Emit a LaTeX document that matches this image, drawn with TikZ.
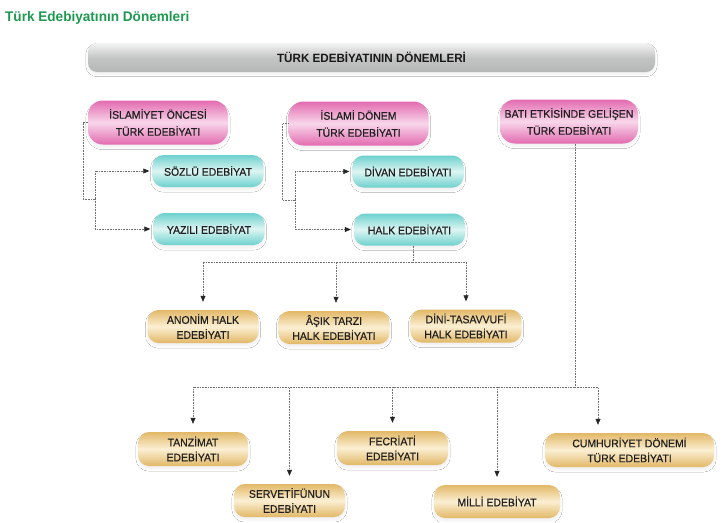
\documentclass[tikz,border=0pt]{standalone}
\usepackage{fontspec}
\setmainfont{Liberation Sans}
\newfontfamily\boxfont[FakeStretch=0.95,FakeBold=0.4]{Liberation Sans}
\newfontfamily\headfont[FakeStretch=0.97]{Liberation Sans}
\usetikzlibrary{arrows.meta,shadows.blur}
\definecolor{pinkD}{HTML}{E36BB0}
\definecolor{pinkL}{HTML}{F8D6EA}
\definecolor{cyanD}{HTML}{6DD1CD}
\definecolor{cyanL}{HTML}{DDF5F3}
\definecolor{goldD}{HTML}{E2B867}
\definecolor{goldL}{HTML}{FBEFD3}
\definecolor{grayD}{HTML}{C4C6C6}
\definecolor{grayL}{HTML}{F3F3F3}
\definecolor{titlegreen}{HTML}{1E9A50}
\definecolor{lineg}{HTML}{707070}
\tikzset{
  basebox/.style={align=center, inner sep=0pt, text=black!88,
    font=\boxfont\fontsize{11}{15}\selectfont,
    blur shadow={shadow xshift=0pt, shadow yshift=-3pt, shadow opacity=6, shadow blur steps=6}},
  pinkbox/.style={basebox, minimum width=140pt, minimum height=44pt, rounded corners=15pt,
    top color=pinkD, bottom color=pinkD, middle color=pinkL,
    font=\boxfont\fontsize{11}{17}\selectfont},
  cyanbox/.style={basebox, minimum width=111pt, minimum height=32pt, rounded corners=11pt,
    top color=cyanD, bottom color=cyanD, middle color=cyanL},
  goldbox/.style={basebox, minimum width=111pt, minimum height=33pt, rounded corners=11pt,
    top color=goldD, bottom color=goldD, middle color=goldL},
  dotline/.style={draw=lineg, densely dotted, line width=0.6pt},
  arr/.style={dotline, -{Triangle[length=6pt,width=5pt,color=black!85,fill=black!85]}, shorten >=3pt},
  darr/.style={arr, shorten >=8pt},
}
\begin{document}
\begin{tikzpicture}[x=1pt,y=-1pt]
\useasboundingbox[fill=white] (0,0) rectangle (722,522);

% title
\node[anchor=west, inner sep=0pt, text=titlegreen, font=\headfont\bfseries\fontsize{14}{16}\selectfont] (title) at (5,18) {Türk Edebiyatının Dönemleri};

% top bar
\node[minimum width=567pt, minimum height=29pt, rounded corners=9pt, inner sep=0pt,
  top color=grayL, bottom color=grayD!92!black, middle color=grayD,
  blur shadow={shadow xshift=0pt, shadow yshift=-2.5pt, shadow opacity=6},
  font=\headfont\bfseries\fontsize{12}{14}\selectfont, text=black!90] (top) at (371.5,57.5) {TÜRK EDEBİYATININ DÖNEMLERİ};

% pink boxes
\node[pinkbox] (p1) at (158,122.5) {İSLAMİYET ÖNCESİ\\TÜRK EDEBİYATI};
\node[pinkbox] (p2) at (358.5,123.5) {İSLAMİ DÖNEM\\TÜRK EDEBİYATI};
\node[pinkbox, minimum width=138pt] (p3) at (569,121.5) {BATI ETKİSİNDE GELİŞEN\\TÜRK EDEBİYATI};

% cyan boxes
\node[cyanbox] (s) at (208,171) {SÖZLÜ EDEBİYAT};
\node[cyanbox] (y) at (209,229) {YAZILI EDEBİYAT};
\node[cyanbox] (d) at (408,171.5) {DİVAN EDEBİYATI};
\node[cyanbox] (h) at (409.5,229.5) {HALK EDEBİYATI};

% gold boxes (halk)
\node[goldbox] (an) at (203,326.5) {ANONİM HALK\\EDEBİYATI};
\node[goldbox] (as) at (334,327.5) {ÂŞIK TARZI\\HALK EDEBİYATI};
\node[goldbox] (di) at (466,326) {DİNİ-TASAVVUFİ\\HALK EDEBİYATI};

% gold boxes (bati)
\node[goldbox, minimum width=110pt, minimum height=34pt] (ta) at (193,449) {TANZİMAT\\EDEBİYATI};
\node[goldbox] (se) at (289.5,500.5) {SERVETİFÜNUN\\EDEBİYATI};
\node[goldbox, minimum height=34pt] (fe) at (392.5,448) {FECRİATİ\\EDEBİYATI};
\node[goldbox, minimum width=126pt] (mi) at (497,501.5) {MİLLİ EDEBİYAT};
\node[goldbox, minimum width=169pt, minimum height=34pt] (cu) at (629.5,450) {CUMHURİYET DÖNEMİ\\TÜRK EDEBİYATI};

% connectors group 1
\coordinate (j1) at (95,199);
\draw[dotline] (p1.west) -- ++(-5,0) |- (j1);
\draw[arr] (j1) |- (s.west);
\draw[arr] (j1) |- (y.west);

% group 2
\coordinate (j2) at (295,200);
\draw[dotline] (p2.west) -- ++(-6,0) |- (j2);
\draw[arr] (j2) |- (d.west);
\draw[arr] (j2) |- (h.west);

% halk
\coordinate (hj) at (413,262);
\draw[dotline] (h.south -| hj) -- (hj);
\draw[darr] (hj) -| (an.north);
\draw[darr] (hj) -| ([xshift=2pt]as.north);
\draw[darr] (hj) -| (di.north);

% bati
\coordinate (bj) at (575,387);
\draw[dotline] (p3.south -| bj) -- (bj);
\draw[darr] (bj) -| (ta.north);
\draw[darr] (bj) -| (se.north);
\draw[darr] (bj) -| (fe.north);
\draw[darr] (bj) -| (mi.north);
\draw[darr] (bj) -| ([xshift=-31.5pt]cu.north);
\end{tikzpicture}
\end{document}
